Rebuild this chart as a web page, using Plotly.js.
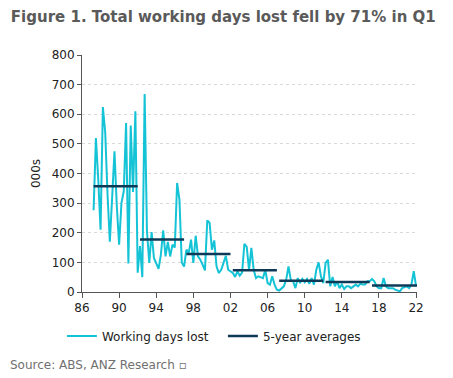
<!DOCTYPE html>
<html>
<head>
<meta charset="utf-8">
<script src="https://cdn.plot.ly/plotly-3.0.1.min.js"></script>
<style>
html,body{margin:0;padding:0;background:#fff;}
#chart{width:453px;height:378px;}
</style>
</head>
<body>
<div id="chart"></div>
<script>
// Quarterly series, first point 1987 Q1 (plotted at 1987.25), 000s of working days lost
var firstQuarterX = 1987.25;
var workingDaysLost = [
  276, 520, 380,
  210, 624, 540, 330,
  170, 320, 475, 290,
  160, 300, 340, 570,
  96, 562, 338, 610,
  65, 155, 50, 668,
  205, 98, 202, 115,
  95, 78, 126, 208,
  120, 169, 120, 160,
  150, 368, 312, 100,
  86, 143, 132, 177,
  98, 190, 120, 109,
  92, 73, 242, 233,
  143, 174, 86, 64,
  75, 100, 122, 75,
  70, 64, 51, 70,
  55, 65, 163, 152,
  75, 149, 75, 47,
  53, 50, 47, 75,
  30, 25, 53, 25,
  8, 5, 12, 19,
  41, 86, 41, 36,
  13, 47, 30, 44,
  33, 44, 28, 47,
  25, 75, 100, 53,
  30, 98, 109, 19,
  51, 19, 36, 13,
  25, 10, 19, 19,
  13, 20, 25, 19,
  28, 25, 25, 36,
  36, 44, 36, 19,
  13, 13, 47, 19,
  13, 13, 13, 8,
  5, 2, 13, 16,
  19, 13, 25, 70,
  19
];
// 5-year averages
var avgStart = [1987.25, 1992.25, 1997.25, 2002.25, 2007.25, 2012.25, 2017.25];
var avgEnd   = [1992.0, 1997.0, 2002.0, 2007.0, 2012.0, 2017.0, 2022.1];
var avgValue = [357, 177, 128, 73, 38, 34, 22];
var xTickVals = [1986, 1990, 1994, 1998, 2002, 2006, 2010, 2014, 2018, 2022];
var xTickText = ['86', '90', '94', '98', '02', '06', '10', '14', '18', '22'];

var xq = workingDaysLost.map(function(v, i){ return firstQuarterX + 0.25 * i; });
var ax = [], ay = [];
for (var k = 0; k < avgValue.length; k++) {
  ax.push(avgStart[k], avgEnd[k], null);
  ay.push(avgValue[k], avgValue[k], null);
}

var font = 'Verdana, "DejaVu Sans", sans-serif';
var data = [
  {x: xq, y: workingDaysLost, type: 'scatter', mode: 'lines', name: 'Working days lost',
   line: {color: '#15C3D6', width: 2}},
  {x: ax, y: ay, type: 'scatter', mode: 'lines', name: '5-year averages',
   line: {color: '#0E3A57', width: 2.5}, connectgaps: false}
];
var layout = {
  width: 453, height: 378,
  margin: {l: 82, r: 36, t: 55, b: 86},
  paper_bgcolor: '#fff', plot_bgcolor: '#fff',
  font: {family: font, size: 12, color: '#222'},
  title: {text: '<b>Figure 1. Total working days lost fell by 71% in Q1</b>',
          font: {family: font, size: 15, color: '#5a5a5a'},
          x: 0.024, xanchor: 'left', xref: 'container', y: 0.955, yanchor: 'middle'},
  xaxis: {range: [1986, 2022.1], tickvals: xTickVals, ticktext: xTickText,
          showgrid: false, zeroline: false, showline: true, linecolor: '#555', linewidth: 1,
          ticks: 'outside', ticklen: 5, tickcolor: '#555', tickfont: {size: 12, color: '#222'}},
  yaxis: {range: [0, 800], dtick: 100, showgrid: true, gridcolor: '#d9d9d9', griddash: 'dot',
          zeroline: false, showline: true, linecolor: '#555', linewidth: 1,
          ticks: 'outside', ticklen: 4, tickcolor: '#555', tickfont: {size: 12, color: '#222'},
          title: {text: '000s', font: {size: 12, color: '#222'}, standoff: 8}},
  showlegend: true,
  legend: {orientation: 'h', x: -0.06, xanchor: 'left', y: -0.186, yanchor: 'middle',
           font: {size: 12, color: '#222'}, entrywidth: 116, entrywidthmode: 'pixels',
           bgcolor: 'rgba(0,0,0,0)'},
  annotations: [{text: 'Source: ABS, ANZ Research \u25AB', xref: 'paper', yref: 'paper',
                 x: -0.22, xanchor: 'left', y: -0.31, yanchor: 'middle', showarrow: false,
                 font: {size: 12, color: '#707070'}}]
};
Plotly.newPlot('chart', data, layout, {displayModeBar: false, staticPlot: true});
</script>
</body>
</html>
